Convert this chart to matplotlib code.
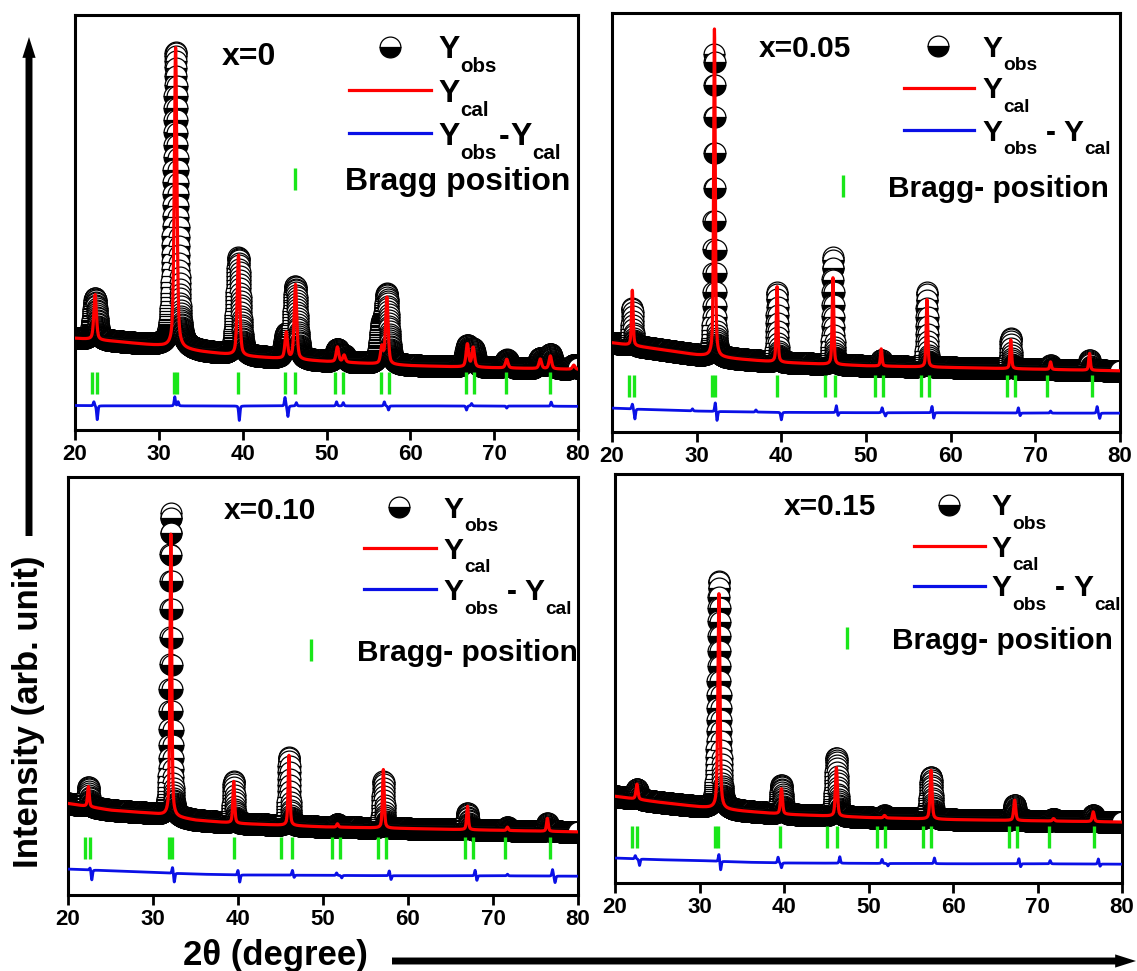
import numpy as np
import matplotlib
matplotlib.use("Agg")
import matplotlib.pyplot as plt
from matplotlib.patches import FancyArrowPatch, ArrowStyle

plt.rcParams['font.family'] = ['Liberation Sans', 'DejaVu Sans']
plt.rcParams['font.weight'] = 'bold'

# ---------------- data (axis units = % of panel height) -------------
PANEL_LABELS = ["x=0", "x=0.05", "x=0.10", "x=0.15"]
BRAGG_LABELS = ["Bragg position", "Bragg- position", "Bragg- position", "Bragg- position"]
X_TICKS = [20, 30, 40, 50, 60, 70, 80]

# Bragg reflection positions (2theta)
BRAGG = [22.0, 22.6, 31.85, 32.2, 39.5, 45.1, 46.3, 51.05, 51.95, 56.5, 57.4, 66.65, 67.6, 71.4, 76.7]
BRAGG_Y = [11.4, 10.9, 11.2, 11.3]

# background level at these 2theta values
BKG_X = [20, 25, 30, 35, 40, 50, 60, 70, 80]
BKG_0 = [22.1, 21.3, 20.3, 18.9, 17.8, 16.5, 15.5, 15.0, 14.6]
BKG_1 = [21.3, 19.9, 18.4, 17.4, 16.6, 15.8, 15.4, 15.0, 14.6]
BKG_2 = [21.9, 20.3, 19.5, 17.9, 17.1, 16.3, 15.9, 15.5, 15.1]
BKG_3 = [21.2, 19.8, 18.6, 17.6, 16.8, 16.0, 15.5, 15.2, 14.9]

# peak positions, calculated heights and observed heights above background
POS_0 = [22.4, 32.0, 39.5, 45.2, 46.3, 51.3, 52.1, 56.6, 57.2, 66.8, 67.5, 71.5, 75.5, 76.7, 79.5]
CAL_0 = [10.9, 72.4, 24.2, 6.3, 18.0, 3.6, 1.7, 4.0, 16.1, 5.5, 4.7, 2.1, 2.3, 3.1, 1.0]
OBS_0 = [10.0, 71.4, 23.6, 5.5, 17.4, 3.0, 1.5, 8.0, 15.9, 4.9, 4.0, 2.0, 2.5, 3.5, 1.0]

POS_1 = [22.4, 32.1, 39.5, 46.1, 51.8, 57.2, 67.1, 71.8, 76.4]
CAL_1 = [13.2, 78.2, 18.0, 20.7, 4.1, 16.1, 6.9, 1.8, 4.0]
OBS_1 = [8.9, 72.3, 16.7, 25.6, 1.5, 17.8, 7.3, 1.0, 2.5]

POS_2 = [22.4, 32.1, 39.5, 46.0, 51.7, 57.1, 67.0, 71.7, 76.4]
CAL_2 = [4.8, 67.5, 10.0, 16.8, 0.8, 14.0, 5.6, 0.8, 3.1]
OBS_2 = [4.8, 72.6, 10.0, 16.4, 0.8, 11.2, 4.0, 0.8, 1.9]

POS_3 = [22.6, 32.3, 39.7, 46.2, 51.9, 57.4, 67.3, 71.9, 76.6]
CAL_3 = [3.7, 52.6, 6.2, 11.9, 0.6, 11.9, 5.0, 0.6, 2.4]
OBS_3 = [2.5, 55.8, 7.1, 14.3, 0.6, 10.3, 3.8, 0.6, 1.6]

CAL_FWHM = [0.36, 0.22, 0.24, 0.28]
OBS_FWHM = [0.62, 0.22, 0.28, 0.40]

# difference curve: baseline (at BKG_X) and residual spikes
DIFF_BASE_0 = [5.9, 5.8, 5.8, 5.8, 5.8, 5.8, 5.8, 5.8, 5.7]
DIFF_POS_0 = [22.25, 22.65, 31.9, 32.3, 39.6, 45.05, 45.4, 46.4, 51.2, 52.0, 56.9, 57.4, 66.7, 67.3, 71.5, 76.8]
DIFF_AMP_0 = [1.0, -3.4, 2.2, 1.0, -3.5, 2.1, -2.6, 0.8, 1.0, 0.8, 1.0, -1.0, -1.0, 0.6, -0.5, 1.0]

DIFF_BASE_1 = [5.7, 5.3, 5.0, 4.8, 4.7, 4.6, 4.6, 4.5, 4.5]
DIFF_POS_1 = [22.4, 22.7, 29.5, 32.2, 32.4, 37.0, 40.0, 46.5, 46.7, 51.9, 52.3, 57.8, 58.0, 68.0, 68.2, 71.8, 77.3, 77.6]
DIFF_AMP_1 = [1.2, -2.4, 0.5, 2.2, -2.3, 0.5, -1.8, 1.7, -0.8, 1.2, -0.8, 1.6, -1.4, 1.3, -0.7, 0.5, 1.6, -1.3]

DIFF_BASE_2 = [6.2, 5.8, 5.4, 5.0, 4.8, 4.7, 4.6, 4.6, 4.5]
DIFF_POS_2 = [22.6, 22.8, 32.3, 32.5, 40.0, 40.2, 46.4, 46.6, 51.6, 52.2, 57.8, 58.0, 67.9, 68.1, 71.7, 77.0, 77.3]
DIFF_AMP_2 = [0.6, -2.4, 1.5, -2.2, 1.2, -1.8, 1.2, -0.6, 0.6, -0.6, 1.2, -1.0, 1.4, -1.2, 0.4, 1.6, -1.6]

DIFF_BASE_3 = [6.1, 5.7, 5.5, 5.1, 4.9, 4.8, 4.7, 4.7, 4.6]
DIFF_POS_3 = [22.4, 22.9, 32.3, 32.5, 39.3, 39.7, 46.6, 51.6, 52.3, 57.8, 67.8, 68.0, 71.5, 77.2, 77.4]
DIFF_AMP_3 = [0.8, -1.6, 1.8, -2.2, 1.4, -1.2, 1.6, 1.0, -0.6, 1.4, 1.3, -0.8, 0.8, 1.3, -0.6]

BKGS = [BKG_0, BKG_1, BKG_2, BKG_3]
POSS = [POS_0, POS_1, POS_2, POS_3]
CALS = [CAL_0, CAL_1, CAL_2, CAL_3]
OBSS = [OBS_0, OBS_1, OBS_2, OBS_3]
DBASES = [DIFF_BASE_0, DIFF_BASE_1, DIFF_BASE_2, DIFF_BASE_3]
DPOSS = [DIFF_POS_0, DIFF_POS_1, DIFF_POS_2, DIFF_POS_3]
DAMPS = [DIFF_AMP_0, DIFF_AMP_1, DIFF_AMP_2, DIFF_AMP_3]

STEP = 0.02  # 2theta sampling step


def pseudo_voigt(x, pos, h, fwhm, eta=0.5):
    g = fwhm / 2.0
    u = (x - pos) / g
    return h * (eta / (1 + u ** 2) + (1 - eta) * np.exp(-np.log(2) * u ** 2))


# ---------------- layout (pixels of the 1137x971 figure) -------------
W, H = 1137, 971
AX_PIX = [(75, 578, 15, 430), (612, 1120, 13, 432), (68, 578, 477, 895), (615, 1122, 474, 883)]
# legend layout in axes fractions: (label x, label y, obs marker x, line x0, line x1, text x,
#                                   row1 y, row2 y, row3 y, bragg marker x, bragg text x, bragg y)
LEG = [
    (0.292, 0.908, 0.627, 0.544, 0.707, 0.723, 0.924, 0.819, 0.715, 0.438, 0.536, 0.606),
    (0.288, 0.921, 0.641, 0.574, 0.712, 0.729, 0.921, 0.822, 0.720, 0.455, 0.543, 0.586),
    (0.306, 0.924, 0.649, 0.581, 0.721, 0.736, 0.928, 0.830, 0.731, 0.477, 0.566, 0.586),
    (0.333, 0.925, 0.658, 0.590, 0.729, 0.743, 0.925, 0.824, 0.727, 0.458, 0.546, 0.598),
]
FONT_BIG = [23.0, 21.5, 21.5, 21.5]
DIFF_GAP = [1.0, 6.0, 6.0, 6.0]

GREEN = '#19e619'
BLUE = '#0a10e6'
OBS_STYLE = dict(marker='o', fillstyle='bottom', markerfacecolor='black',
                 markerfacecoloralt='white', markeredgecolor='black',
                 markeredgewidth=0.9, markersize=15, linestyle='none')


def chain_label(ax, parts, x, y, big):
    """parts: list of (text, is_subscript, gap_points). y = axes-fraction of cap centre."""
    cap = 0.716 * big
    base = -cap / 2.0
    prev = None
    for txt, is_sub, gap in parts:
        fs = big * 0.64 if is_sub else big
        dy = base - 0.45 * big if is_sub else base
        if prev is None:
            a = ax.annotate(txt, xy=(x, y), xycoords='axes fraction', xytext=(gap, dy),
                            textcoords='offset points', va='baseline', ha='left',
                            fontsize=fs, fontweight='bold', annotation_clip=False)
        else:
            a = ax.annotate(txt, xy=(1, y), xycoords=(prev, 'axes fraction'), xytext=(gap, dy),
                            textcoords='offset points', va='baseline', ha='left',
                            fontsize=fs, fontweight='bold', annotation_clip=False)
        prev = a
    return prev


fig = plt.figure(figsize=(W / 100, H / 100), dpi=100)

x = np.arange(20, 80 + STEP / 2, STEP)
for i in range(4):
    l, r, t, b = AX_PIX[i]
    ax = fig.add_axes([l / W, 1 - b / H, (r - l) / W, (b - t) / H])
    bkg = np.interp(x, BKG_X, BKGS[i])
    obs = bkg.copy()
    cal = bkg.copy()
    for p, hc, ho in zip(POSS[i], CALS[i], OBSS[i]):
        cal += pseudo_voigt(x, p, hc, CAL_FWHM[i])
        obs += pseudo_voigt(x, p, ho, OBS_FWHM[i])
    diff = np.interp(x, BKG_X, DBASES[i])
    for p, a in zip(DPOSS[i], DAMPS[i]):
        diff += pseudo_voigt(x, p, a, 0.18, eta=0.3)

    ax.plot(x, obs, zorder=2, **OBS_STYLE)
    ax.plot(x, cal, color='red', lw=2.3, zorder=3)
    ax.plot(x, diff, color=BLUE, lw=2.0, zorder=3)
    ax.plot(BRAGG, [BRAGG_Y[i]] * len(BRAGG), linestyle='none', marker='|',
            markersize=16, markeredgewidth=2.4, color=GREEN, zorder=3)

    ax.set_xlim(20, 80)
    ax.set_ylim(0, 100)
    ax.set_yticks([])
    ax.set_xticks(X_TICKS)
    ax.tick_params(axis='x', direction='out', length=7, width=2, labelsize=16, pad=3)
    for lab in ax.get_xticklabels():
        lab.set_fontweight('bold')
    for s in ax.spines.values():
        s.set_linewidth(2.2)

    # panel label and legend
    (px, py, mx, lx0, lx1, tx, y1, y2, y3, bmx, btx, by) = LEG[i]
    F = FONT_BIG[i]
    chain_label(ax, [(PANEL_LABELS[i], False, 0)], px, py, F)
    ax.plot([mx], [y1], transform=ax.transAxes, clip_on=False, **OBS_STYLE)
    ax.plot([lx0, lx1], [y2, y2], transform=ax.transAxes, color='red', lw=2.3, clip_on=False)
    ax.plot([lx0, lx1], [y3, y3], transform=ax.transAxes, color=BLUE, lw=2.3, clip_on=False)
    ax.plot([bmx], [by], transform=ax.transAxes, marker='|', markersize=16, markeredgewidth=2.4,
            color=GREEN, clip_on=False)
    chain_label(ax, [("Y", False, 0), ("obs", True, 0.5)], tx, y1, F)
    chain_label(ax, [("Y", False, 0), ("cal", True, 0.5)], tx, y2, F)
    g = DIFF_GAP[i]
    chain_label(ax, [("Y", False, 0), ("obs", True, 0.5), ("-", False, g), ("Y", False, g),
                     ("cal", True, 0.5)], tx, y3, F)
    chain_label(ax, [(BRAGG_LABELS[i], False, 0)], btx, by, F)

# axis titles with arrows
fig.text(29 / W, 1 - 712 / H, "Intensity (arb. unit)", rotation=90, ha='center', va='center',
         fontsize=25, fontweight='bold')
fig.text(275 / W, 1 - 955 / H, "2\u03b8 (degree)", ha='center', va='center',
         fontsize=25, fontweight='bold')
style = ArrowStyle.Simple(head_length=15, head_width=9.5, tail_width=5)
fig.add_artist(FancyArrowPatch((29 / W, 1 - 536 / H), (29 / W, 1 - 37 / H), transform=fig.transFigure,
                               arrowstyle=style, mutation_scale=1, color='black', lw=0,
                               shrinkA=0, shrinkB=0))
fig.add_artist(FancyArrowPatch((392 / W, 1 - 961 / H), (1136 / W, 1 - 961 / H), transform=fig.transFigure,
                               arrowstyle=style, mutation_scale=1, color='black', lw=0,
                               shrinkA=0, shrinkB=0))

fig.savefig("out.png", dpi=100)
